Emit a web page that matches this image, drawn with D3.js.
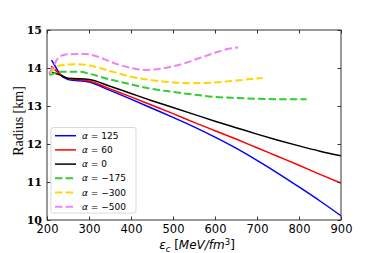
<!DOCTYPE html>
<html>
<head>
<meta charset="utf-8">
<script src="https://cdn.jsdelivr.net/npm/d3@7"></script>
<style>
  body { margin: 0; background: #fff; }
  svg { display: block; }
</style>
</head>
<body>
<script>
// energy density (MeV/fm^3) vs radius (km)
var alphas = ["125", "60", "0", "\u2212175", "\u2212300", "\u2212500"];
var colors = ["#0000ff", "#ff0000", "#000000", "#32cd32", "#ffd700", "#ee82ee"];
var dashed = [false, false, false, true, true, true];

var epsBlue = [211, 222, 232, 250, 300, 350, 400, 450, 500, 550, 600, 650, 700, 750, 800, 850, 900];
var radBlue = [14.21, 14.0, 13.82, 13.70, 13.63, 13.41, 13.18, 12.94, 12.70, 12.45, 12.18, 11.89, 11.57, 11.23, 10.87, 10.5, 10.11];

var epsRed = [210, 230, 250, 300, 350, 400, 450, 500, 550, 600, 650, 700, 750, 800, 850, 900];
var radRed = [14.05, 13.85, 13.72, 13.66, 13.45, 13.24, 13.02, 12.8, 12.57, 12.35, 12.13, 11.9, 11.67, 11.44, 11.2, 10.97];

var epsBlack = [208, 230, 250, 300, 350, 400, 450, 500, 550, 600, 650, 700, 750, 800, 850, 900];
var radBlack = [13.9, 13.82, 13.73, 13.7, 13.52, 13.33, 13.14, 12.96, 12.78, 12.6, 12.43, 12.26, 12.1, 11.95, 11.81, 11.69];

var epsGreen = [205, 215, 230, 250, 280, 300, 350, 400, 450, 500, 550, 600, 650, 700, 750, 818];
var radGreen = [13.82, 13.85, 13.9, 13.9, 13.9, 13.85, 13.7, 13.57, 13.45, 13.37, 13.3, 13.24, 13.21, 13.19, 13.18, 13.18];

var epsGold = [207, 215, 225, 240, 270, 300, 350, 400, 450, 500, 550, 600, 650, 713];
var radGold = [13.85, 13.95, 14.05, 14.08, 14.1, 14.07, 13.92, 13.77, 13.68, 13.62, 13.6, 13.62, 13.67, 13.74];

var epsViolet = [205, 215, 230, 250, 290, 320, 350, 400, 440, 480, 520, 560, 600, 630, 655];
var radViolet = [13.85, 14.05, 14.3, 14.36, 14.37, 14.3, 14.17, 14.0, 13.95, 14.0, 14.1, 14.25, 14.4, 14.5, 14.54];

var xTicks = [200, 300, 400, 500, 600, 700, 800, 900];
var yTicks = [10, 11, 12, 13, 14, 15];

var series = [
  [epsBlue, radBlue], [epsRed, radRed], [epsBlack, radBlack],
  [epsGreen, radGreen], [epsGold, radGold], [epsViolet, radViolet]
];

var W = 379, H = 253;
var m = {left: 47, top: 30, right: 341, bottom: 220};

var svg = d3.select("body").append("svg").attr("width", W).attr("height", H);

var x = d3.scaleLinear().domain([200, 900]).range([m.left, m.right]);
var y = d3.scaleLinear().domain([10, 15]).range([m.bottom, m.top]);

// clip so lines stay in the frame
svg.append("clipPath").attr("id", "clip")
  .append("rect").attr("x", m.left).attr("y", m.top)
  .attr("width", m.right - m.left).attr("height", m.bottom - m.top);

var line = d3.line().x(function (d) { return x(d[0]); }).y(function (d) { return y(d[1]); })
  .curve(d3.curveMonotoneX);

var plot = svg.append("g").attr("clip-path", "url(#clip)");
series.forEach(function (s, i) {
  var pts = s[0].map(function (e, j) { return [e, s[1][j]]; });
  plot.append("path")
    .attr("d", line(pts))
    .attr("fill", "none")
    .attr("stroke", colors[i])
    .attr("stroke-width", dashed[i] ? 2 : 1.5)
    .attr("stroke-dasharray", dashed[i] ? "7.4,3.2" : null);
});

// axes, ticks pointing inward on all four sides
var axCol = "#333";
function styleAxis(g, hideText) {
  g.select(".domain").remove();
  g.selectAll(".tick line").attr("stroke", axCol);
  if (hideText) g.selectAll(".tick text").remove();
}

svg.append("g").attr("transform", "translate(0," + m.bottom + ")")
  .call(d3.axisBottom(x).tickValues(xTicks).tickSizeInner(-3.5).tickSizeOuter(0).tickPadding(5))
  .call(function (g) {
    styleAxis(g, false);
    g.selectAll(".tick text").attr("font-family", "DejaVu Sans").attr("font-size", 11.5).attr("fill", "#000");
  });

svg.append("g").attr("transform", "translate(0," + m.top + ")")
  .call(d3.axisTop(x).tickValues(xTicks).tickSizeInner(-3.5).tickSizeOuter(0))
  .call(function (g) { styleAxis(g, true); });

svg.append("g").attr("transform", "translate(" + m.left + ",0)")
  .call(d3.axisLeft(y).tickValues(yTicks).tickFormat(d3.format("d"))
    .tickSizeInner(-3.5).tickSizeOuter(0).tickPadding(5))
  .call(function (g) {
    styleAxis(g, false);
    g.selectAll(".tick text").attr("font-family", "DejaVu Serif").attr("font-size", 11)
      .attr("font-weight", "bold").attr("fill", "#000");
  });

svg.append("g").attr("transform", "translate(" + m.right + ",0)")
  .call(d3.axisRight(y).tickValues(yTicks).tickSizeInner(-3.5).tickSizeOuter(0))
  .call(function (g) { styleAxis(g, true); });

svg.append("rect")
  .attr("x", m.left).attr("y", m.top)
  .attr("width", m.right - m.left).attr("height", m.bottom - m.top)
  .attr("fill", "none").attr("stroke", axCol).attr("stroke-width", 1);

// axis titles
svg.append("text")
  .attr("transform", "translate(18,121) rotate(-90)")
  .attr("text-anchor", "middle").attr("dy", "0.35em")
  .attr("font-family", "Liberation Serif").attr("font-size", 14)
  .text("Radius [km]");

var xl = svg.append("text")
  .attr("x", (m.left + m.right) / 2 + 3).attr("y", 249)
  .attr("text-anchor", "middle")
  .attr("font-family", "DejaVu Sans").attr("font-size", 12);
xl.append("tspan").attr("font-style", "italic").text("\u03b5");
xl.append("tspan").attr("font-style", "italic").attr("font-size", 8.5).attr("dy", 2.5).text("c");
xl.append("tspan").attr("dy", -2.5).text(" [");
xl.append("tspan").attr("font-style", "italic").text("MeV/fm");
xl.append("tspan").attr("font-size", 8.5).attr("dy", -4.5).text("3");
xl.append("tspan").attr("dy", 4.5).text("]");

// legend
var lg = svg.append("g");
lg.append("rect")
  .attr("x", 51).attr("y", 127.5).attr("width", 85).attr("height", 85.5)
  .attr("rx", 2).attr("fill", "#fff").attr("fill-opacity", 0.8)
  .attr("stroke", "#d0d0d0").attr("stroke-width", 0.8);

alphas.forEach(function (a, i) {
  var yy = 135.7 + i * 14.2;
  lg.append("line")
    .attr("x1", 55).attr("x2", 76).attr("y1", yy).attr("y2", yy)
    .attr("stroke", colors[i])
    .attr("stroke-width", dashed[i] ? 2 : 1.5)
    .attr("stroke-dasharray", dashed[i] ? "7.4,3.2" : null);
  var t = lg.append("text")
    .attr("x", 82).attr("y", yy).attr("dy", "0.35em")
    .attr("font-family", "DejaVu Sans").attr("font-size", 9);
  t.append("tspan").attr("font-style", "italic").text("\u03b1");
  t.append("tspan").text(" = " + a);
});
</script>
</body>
</html>
